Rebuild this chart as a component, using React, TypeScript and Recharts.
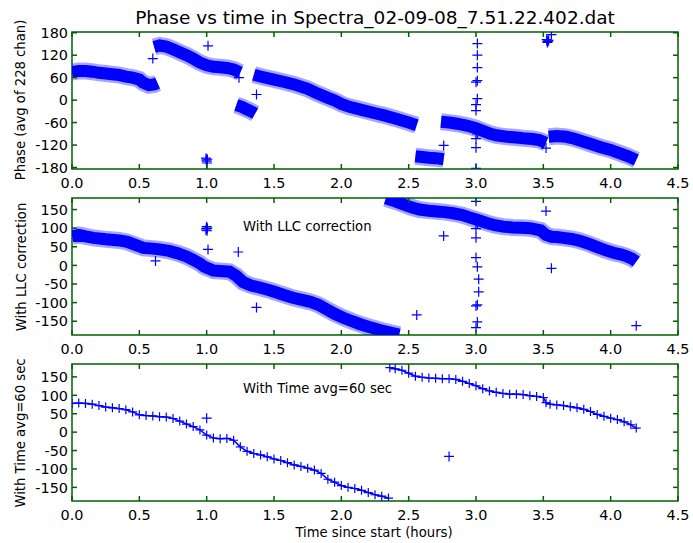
import { ComposedChart, Line, Scatter, XAxis, YAxis, ReferenceArea } from 'recharts';

type Pt = { t: number; v: number };
const pts = (rows: number[][]): Pt[] => rows.map(([t, v]) => ({ t, v }));

const BLUE = '#0000ff';
const INK = '#000';
// dark strokes did not show up in the picture, this one did
const FRAME = '#006000';
const FONT = 'DejaVu Sans';

const xTicks = [0, 0.5, 1, 1.5, 2, 2.5, 3, 3.5, 4, 4.5];
const phaseTicks = [-180, -120, -60, 0, 60, 120, 180];
const corrTicks = [-150, -100, -50, 0, 50, 100, 150];

// top panel: raw phase, dense bands
const rawA = pts([[0, 75], [0.05, 78], [0.1, 78], [0.15, 76], [0.2, 73], [0.25, 71], [0.3, 69], [0.35, 67], [0.4, 63], [0.45, 60], [0.5, 55], [0.53, 46], [0.57, 40], [0.61, 42], [0.635, 46]]);
const rawB = pts([[0.61, 142], [0.65, 146], [0.7, 143], [0.75, 136], [0.8, 128], [0.85, 120], [0.9, 111], [0.95, 100], [1.0, 93], [1.05, 89], [1.1, 88], [1.15, 86], [1.2, 82], [1.25, 74]]);
const rawC = pts([[1.22, -13], [1.26, -18], [1.3, -25], [1.33, -30], [1.36, -36]]);
const rawD = pts([[1.35, 68], [1.4, 63], [1.5, 55], [1.57, 49], [1.65, 42], [1.75, 30], [1.82, 18], [1.9, 6], [1.95, -1], [2.0, -10], [2.06, -18], [2.15, -26], [2.25, -35], [2.31, -40], [2.4, -49], [2.5, -60], [2.56, -67]]);
const rawE = pts([[2.55, -150], [2.6, -152], [2.65, -154], [2.7, -155], [2.76, -158]]);
const rawF = pts([[2.74, -58], [2.8, -60], [2.86, -63], [2.93, -68], [3.0, -75], [3.05, -82], [3.1, -89], [3.15, -94], [3.23, -98], [3.3, -100], [3.35, -102], [3.42, -104], [3.47, -107], [3.52, -114]]);
const rawG = pts([[3.54, -98], [3.6, -96], [3.67, -98], [3.73, -103], [3.8, -111], [3.86, -118], [3.92, -125], [4.0, -133], [4.07, -142], [4.13, -150], [4.19, -160]]);
const rawOut = pts([[0.6, 111], [1.01, 145], [1.24, 60], [1.37, 15], [2.76, -121], [3.01, 151], [3.01, 120], [3.01, 87], [3.0, 48], [3.01, 52], [3.01, 4], [3.0, -12], [3.0, -28], [3.01, -90], [3.0, -103], [3.0, -127], [3.0, -182], [3.52, -128], [3.56, 175],
  [0.995, -155], [1.005, -158], [1.0, -163], [1.003, -168], [0.998, -160],
  [3.525, 162], [3.535, 157], [3.53, 154], [3.54, 160], [3.528, 158]]);

// middle panel: with LLC correction
const llcA = pts([[0, 78], [0.05, 82], [0.1, 78], [0.16, 74], [0.25, 70], [0.35, 67], [0.41, 63], [0.47, 55], [0.53, 47], [0.6, 45], [0.65, 43], [0.72, 39], [0.78, 33], [0.85, 24], [0.9, 15], [0.95, 5], [0.98, -3], [1.05, -14], [1.1, -15], [1.17, -17], [1.22, -28], [1.27, -45], [1.33, -54], [1.4, -60], [1.46, -66], [1.52, -73], [1.58, -80], [1.64, -87], [1.7, -92], [1.77, -98], [1.83, -106], [1.89, -118], [1.95, -130], [2.01, -140], [2.08, -150], [2.14, -158], [2.2, -165], [2.26, -171], [2.3, -175], [2.38, -182], [2.43, -186]]);
const llcB = pts([[2.33, 180], [2.4, 172], [2.46, 164], [2.52, 156], [2.58, 150], [2.65, 147], [2.71, 145], [2.77, 143], [2.83, 140], [2.9, 135], [2.95, 129], [3.02, 121], [3.08, 114], [3.14, 108], [3.2, 104], [3.27, 102], [3.33, 101], [3.4, 100], [3.48, 94], [3.52, 82], [3.56, 77], [3.6, 76], [3.65, 74], [3.71, 71], [3.77, 66], [3.83, 59], [3.9, 49], [3.96, 41], [4.02, 34], [4.08, 29], [4.12, 24], [4.16, 18], [4.19, 10]]);
const llcOut = pts([[0.62, 12], [1.01, 43], [1.235, 36], [1.37, -113], [2.56, -133], [2.76, 79], [3.0, 172], [3.01, 114], [3.0, 99], [3.0, 74], [3.0, 21], [3.01, -4], [3.02, -37], [3.02, -71], [3.0, -109], [3.01, -106], [3.01, -152], [3.0, -167], [3.52, 146], [3.56, -8], [4.19, -162],
  [0.995, 95], [1.005, 100], [1.0, 104], [1.003, 93], [0.998, 99]]);

// bottom panel: 60 sec average
const avgA = pts([[0, 78], [0.05, 79], [0.1, 78], [0.15, 76], [0.2, 72], [0.25, 68], [0.3, 66], [0.35, 64], [0.4, 61], [0.45, 55], [0.5, 47], [0.55, 45], [0.6, 44], [0.65, 42], [0.7, 41], [0.75, 37], [0.8, 30], [0.85, 22], [0.9, 15], [0.95, 6], [1.0, -8], [1.05, -16], [1.1, -18], [1.15, -17], [1.2, -22], [1.25, -40], [1.3, -52], [1.35, -58], [1.4, -62], [1.45, -67], [1.5, -73], [1.55, -77], [1.6, -83], [1.65, -89], [1.7, -93], [1.75, -98], [1.8, -103], [1.85, -112], [1.9, -128], [1.95, -136], [2.0, -145], [2.05, -150], [2.1, -153], [2.15, -158], [2.2, -164], [2.25, -170], [2.3, -174], [2.35, -179]]);
const avgB = pts([[2.36, 175], [2.4, 172], [2.45, 168], [2.5, 160], [2.55, 152], [2.6, 149], [2.65, 147], [2.7, 146], [2.75, 145], [2.8, 145], [2.85, 143], [2.9, 138], [2.95, 132], [3.0, 126], [3.05, 118], [3.1, 112], [3.15, 108], [3.2, 105], [3.25, 103], [3.3, 103], [3.35, 102], [3.4, 99], [3.45, 97], [3.5, 94], [3.52, 80], [3.55, 76], [3.6, 74], [3.65, 72], [3.7, 69], [3.75, 66], [3.8, 62], [3.85, 56], [3.9, 48], [3.95, 43], [4.0, 38], [4.05, 34], [4.1, 28], [4.15, 20], [4.19, 11]]);
const avgOut = pts([[1.0, 38], [2.8, -66]]);

const plus = (cx: number, cy: number, r: number) => `M${cx - r},${cy}H${cx + r}M${cx},${cy - r}V${cy + r}`;

const PlusShape = (p: any) => <path d={plus(p.cx, p.cy, 5)} stroke={BLUE} strokeWidth={1.2} fill="none" />;
const PlusDot = (p: any) => <path key={`d${p.index}`} d={plus(p.cx, p.cy, 4.5)} stroke={BLUE} strokeWidth={1.2} fill="none" />;

const txt = { fill: INK, fontSize: 14.4, fontFamily: FONT };

// inside tick marks drawn next to the labels (tickSize 0 puts x/y on the spine)
const BottomTick = (p: any) => (
  <g>
    <path d={`M${p.x},${p.y}V${p.y - 5}`} stroke={FRAME} strokeWidth={1.5} fill="none" />
    <text x={p.x} y={p.y + 18.7} textAnchor="middle" {...txt}>{Number(p.payload.value).toFixed(1)}</text>
  </g>
);
const TopTick = (p: any) => <path d={`M${p.x},${p.y}V${p.y + 5}`} stroke={FRAME} strokeWidth={1.5} fill="none" />;
const LeftTick = (p: any) => (
  <g>
    <path d={`M${p.x},${p.y}H${p.x + 5}`} stroke={FRAME} strokeWidth={1.5} fill="none" />
    <text x={p.x - 4} y={p.y + 5.2} textAnchor="end" {...txt}>{String(p.payload.value)}</text>
  </g>
);
const RightTick = (p: any) => <path d={`M${p.x},${p.y}H${p.x - 5}`} stroke={FRAME} strokeWidth={1.5} fill="none" />;

const Panel = ({ top, domain, yTicks, bands, outliers, averaged }: {
  top: number; domain: number[]; yTicks: number[]; bands: Pt[][]; outliers: Pt[]; averaged?: Pt[][];
}) => (
  <div style={{ position: 'absolute', left: 0, top }}>
    <ComposedChart width={693} height={200} margin={{ top: 31, right: 14, bottom: 6, left: 12 }}>
      <XAxis type="number" dataKey="t" domain={[0, 4.5]} ticks={xTicks} height={25} allowDataOverflow
        tick={BottomTick} tickSize={0} tickMargin={0} tickLine={false} axisLine={false} interval={0} />
      <XAxis xAxisId="top" orientation="top" type="number" dataKey="t" domain={[0, 4.5]} ticks={xTicks} height={1}
        tick={TopTick} tickSize={0} tickMargin={0} tickLine={false} axisLine={false} interval={0} allowDataOverflow />
      <YAxis type="number" dataKey="v" domain={domain} ticks={yTicks} width={60} allowDataOverflow
        tick={LeftTick} tickSize={0} tickMargin={0} tickLine={false} axisLine={false} interval={0} />
      <YAxis yAxisId="r" orientation="right" type="number" dataKey="v" domain={domain} ticks={yTicks} width={1}
        tick={RightTick} tickSize={0} tickMargin={0} tickLine={false} axisLine={false} interval={0} allowDataOverflow />
      {bands.map((d, i) => (
        <Line key={`h${i}`} data={d} dataKey="v" type="linear" stroke={BLUE} strokeOpacity={0.35} strokeWidth={17}
          dot={false} activeDot={false} isAnimationActive={false} />
      ))}
      {bands.map((d, i) => (
        <Line key={`b${i}`} data={d} dataKey="v" type="linear" stroke={BLUE} strokeWidth={12}
          dot={false} activeDot={false} isAnimationActive={false} />
      ))}
      {(averaged || []).map((d, i) => (
        <Line key={`a${i}`} data={d} dataKey="v" type="linear" stroke={BLUE} strokeWidth={1.5}
          dot={PlusDot} activeDot={false} isAnimationActive={false} />
      ))}
      <Scatter data={outliers} dataKey="v" shape={PlusShape} isAnimationActive={false} />
      <ReferenceArea x1={0} x2={4.5} y1={domain[0]} y2={domain[1]} fill="none" fillOpacity={0}
        stroke={FRAME} strokeWidth={1.5} ifOverflow="visible" />
    </ComposedChart>
  </div>
);

export default function App() {
  return (
    <div style={{ position: 'absolute', left: 0, top: 0, width: 693, height: 543, background: '#fff' }}>
      <Panel top={0} domain={[-184, 182]} yTicks={phaseTicks} bands={[rawA, rawB, rawC, rawD, rawE, rawF, rawG]} outliers={rawOut} />
      <Panel top={166} domain={[-187, 181]} yTicks={corrTicks} bands={[llcA, llcB]} outliers={llcOut} />
      <Panel top={332} domain={[-187, 185]} yTicks={corrTicks} bands={[]} averaged={[avgA, avgB]} outliers={avgOut} />
      <svg width={693} height={543} style={{ position: 'absolute', left: 0, top: 0, pointerEvents: 'none' }}
        fontFamily={FONT} fill={INK}>
        <text x={375} y={24} fontSize={18.5} textAnchor="middle">Phase vs time in Spectra_02-09-08_7.51.22.402.dat</text>
        <text transform="translate(25,100) rotate(-90)" fontSize={13.2} textAnchor="middle">Phase (avg of 228 chan)</text>
        <text transform="translate(26,267) rotate(-90)" fontSize={13.2} textAnchor="middle">With LLC correction</text>
        <text transform="translate(25,433) rotate(-90)" fontSize={13.2} textAnchor="middle">With Time avg=60 sec</text>
        <text x={243} y={231} fontSize={13.2}>With LLC correction</text>
        <text x={243} y={393} fontSize={13.2}>With Time avg=60 sec</text>
        <text x={374} y={537} fontSize={13.2} textAnchor="middle">Time since start (hours)</text>
      </svg>
    </div>
  );
}
